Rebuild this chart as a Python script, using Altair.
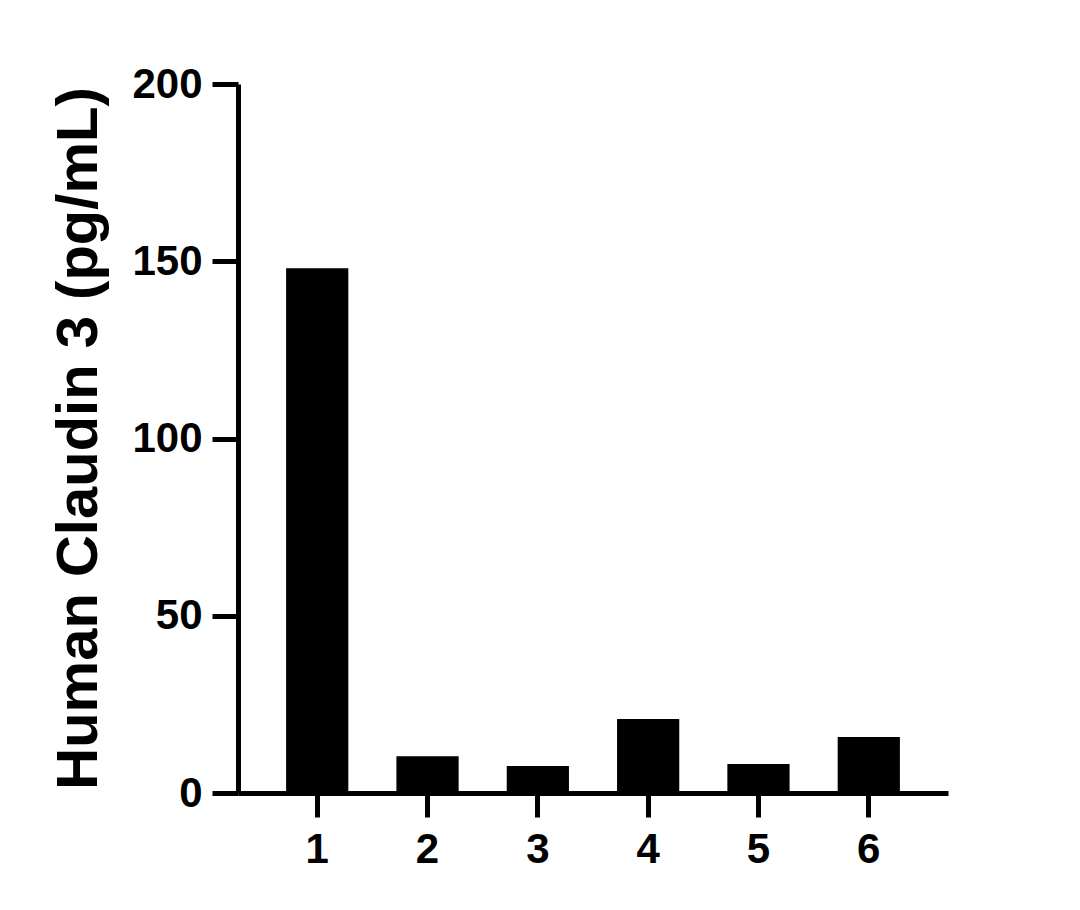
import altair as alt
import pandas as pd

categories = ["1", "2", "3", "4", "5", "6"]
values = [148.0, 10.4, 7.6, 20.9, 8.2, 15.8]
y_ticks = [0, 50, 100, 150, 200]

df = pd.DataFrame({"sample": categories, "conc": values})

FONT = "Liberation Sans"

chart = alt.Chart(df).mark_bar(color="black").encode(
    x=alt.X(
        "sample:N",
        sort=categories,
        scale=alt.Scale(paddingInner=0.436, paddingOuter=0.436),
        axis=alt.Axis(
            title=None,
            labelAngle=0,
            labelFont=FONT,
            labelFontSize=42,
            labelFontWeight="bold",
            labelColor="black",
            labelPadding=12,
            domainColor="black",
            domainWidth=5,
            tickColor="black",
            tickWidth=5,
            tickSize=24,
            grid=False,
        ),
    ),
    y=alt.Y(
        "conc:Q",
        scale=alt.Scale(domain=[0, 200], nice=False),
        axis=alt.Axis(
            title="Human Claudin 3 (pg/mL)",
            values=y_ticks,
            labelFont=FONT,
            labelFontSize=42,
            labelFontWeight="bold",
            labelColor="black",
            labelPadding=10,
            domainColor="black",
            domainWidth=5,
            tickColor="black",
            tickWidth=5,
            tickSize=26,
            grid=False,
            titleFont=FONT,
            titleFontSize=58,
            titleFontWeight="bold",
            titleColor="black",
            titleAngle=270,
            titleBaseline="alphabetic",
            titleAlign="center",
            titleX=-142,
            titleY=354,
        ),
    ),
).properties(
    width=710,
    height=709,
    autosize=alt.AutoSizeParams(type="none"),
    padding={"left": 230, "top": 76, "right": 100, "bottom": 100},
    background="white",
).configure_view(stroke=None)

chart.save("out.html", embed_options={"renderer": "svg", "actions": False})
